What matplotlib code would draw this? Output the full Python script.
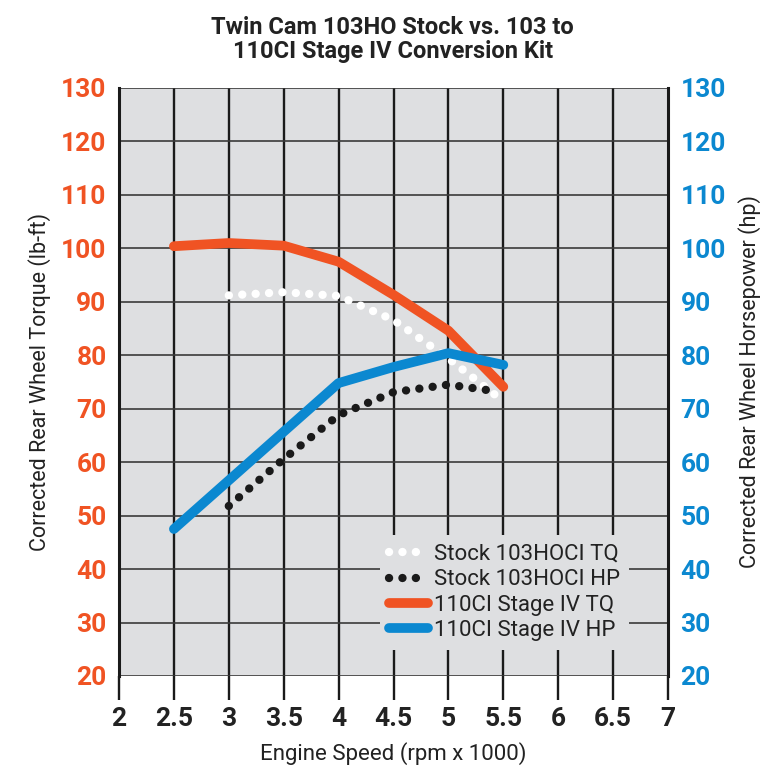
import matplotlib.pyplot as plt

plt.rcParams['font.family'] = ['Roboto', 'DejaVu Sans']

# data
stock_tq_rpm = [3.0, 3.5, 4.0, 4.5, 5.0, 5.45]
stock_tq = [91.2, 91.8, 91.1, 86.6, 79.4, 72.2]
stock_hp_rpm = [3.0, 3.5, 4.0, 4.5, 5.0, 5.42]
stock_hp = [51.8, 60.6, 68.8, 73.1, 74.5, 73.3]
stage4_rpm = [2.5, 3.0, 3.5, 4.0, 4.5, 5.0, 5.5]
stage4_tq = [100.4, 101.0, 100.5, 97.5, 91.3, 84.6, 74.1]
stage4_hp = [47.5, 56.6, 65.7, 74.8, 77.8, 80.4, 78.2]

xticks = [2, 2.5, 3, 3.5, 4, 4.5, 5, 5.5, 6, 6.5, 7]
yticks = [20, 30, 40, 50, 60, 70, 80, 90, 100, 110, 120, 130]

orange = '#f05323'
blue = '#0b88d0'
bg = '#dedfe1'

fig = plt.figure(figsize=(7.81, 7.76), dpi=100)
ax = fig.add_axes([0.1524, 0.1289, 0.7029, 0.7577])
ax.set_facecolor(bg)
ax.set_xlim(2, 7)
ax.set_ylim(20, 130)
ax.set_xticks(xticks)
ax.set_xticklabels([f'{t:g}' for t in xticks])
ax.set_yticks(yticks)

# grid
for x in xticks[1:-1]:
    ax.axvline(x, color='#1a1a1a', lw=1.7, zorder=1)
for y in yticks:
    ax.axhline(y, color='#3a3a3a', lw=1.2, zorder=1)
for s in ['left', 'right']:
    ax.spines[s].set_linewidth(2.2)
    ax.spines[s].set_color('#1a1a1a')
for s in ['top', 'bottom']:
    ax.spines[s].set_visible(False)

ax.tick_params(axis='x', length=17, width=1.7, color='#1a1a1a', direction='out',
               labelsize=19, pad=5, labelcolor='#222222')
ax.tick_params(axis='y', length=0, labelsize=19, pad=9, labelcolor=orange)
for lab in ax.get_xticklabels() + ax.get_yticklabels():
    lab.set_fontweight('semibold')

ax2 = ax.twinx()
ax2.set_ylim(20, 130)
ax2.set_yticks(yticks)
ax2.tick_params(axis='y', length=0, labelsize=19, pad=9, labelcolor=blue)
for lab in ax2.get_yticklabels():
    lab.set_fontweight('semibold')
for s in ax2.spines.values():
    s.set_visible(False)

dots = (0, (0.01, 1.6))
l1, = ax2.plot(stock_tq_rpm, stock_tq, color='white', lw=6, linestyle=dots,
               dash_capstyle='round', zorder=3, label='Stock 103HOCI TQ')
l2, = ax2.plot(stock_hp_rpm, stock_hp, color='#1a1a1a', lw=6, linestyle=dots,
               dash_capstyle='round', zorder=3, label='Stock 103HOCI HP')
l3, = ax2.plot(stage4_rpm, stage4_tq, color=orange, lw=7, solid_capstyle='round',
               solid_joinstyle='round', zorder=4, label='110CI Stage IV TQ')
l4, = ax2.plot(stage4_rpm, stage4_hp, color=blue, lw=7, solid_capstyle='round',
               solid_joinstyle='round', zorder=4, label='110CI Stage IV HP')

leg = ax2.legend(handles=[l1, l2, l3, l4], loc='lower right',
                 bbox_to_anchor=(0.95, 0.025), frameon=True, fancybox=False,
                 facecolor=bg, edgecolor=bg, framealpha=1, fontsize=16,
                 handlelength=1.75, handletextpad=0.3, labelspacing=0.2,
                 borderpad=0.4)
leg.get_frame().set_linewidth(0)
for t in leg.get_texts():
    t.set_color('#222222')

ax.set_ylabel('Corrected Rear Wheel Torque (lb-ft)', fontsize=15.5, color='#222222', labelpad=7)
ax2.set_ylabel('Corrected Rear Wheel Horsepower (hp)', fontsize=15.5, color='#222222', labelpad=9)
ax.set_xlabel('Engine Speed (rpm x 1000)', fontsize=16, color='#222222', labelpad=8)

fig.text(0.503, 0.949, 'Twin Cam 103HO Stock vs. 103 to\n110CI Stage IV Conversion Kit',
         ha='center', va='center', fontsize=17, fontweight='bold', color='#222222',
         family=['Liberation Sans Narrow', 'Roboto', 'DejaVu Sans'], linespacing=1.1)

fig.savefig('out.png', dpi=100)
